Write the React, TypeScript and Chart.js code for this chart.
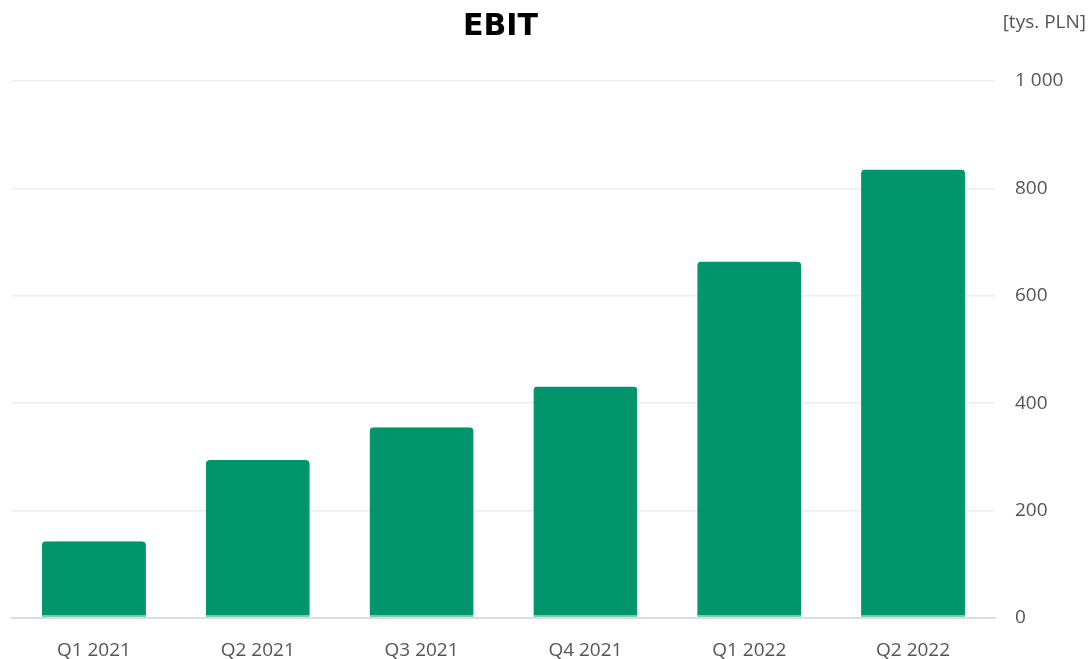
import React, { useEffect, useRef } from "react";
import { Chart, registerables } from "chart.js";

Chart.register(...registerables);

const categories = ["Q1 2021", "Q2 2021", "Q3 2021", "Q4 2021", "Q1 2022", "Q2 2022"];
const ebitValues = [143, 294, 355, 431, 664, 835];
const yTicks = [0, 200, 400, 600, 800, 1000];
const titleText = "EBIT";
const unitText = "[tys. PLN]";

const FONT = "'Open Sans', 'Noto Sans', sans-serif";

const headerPlugin = {
  id: "header",
  afterDraw(chart: any) {
    const { ctx, chartArea } = chart;
    ctx.save();
    ctx.fillStyle = "#000";
    ctx.font = `bold 30px 'DejaVu Sans', sans-serif`;
    ctx.textAlign = "center";
    ctx.textBaseline = "middle";
    ctx.fillText(titleText, (chartArea.left + chartArea.right) / 2 - 3, 27);
    ctx.fillStyle = "#555";
    ctx.font = `19px ${FONT}`;
    ctx.textAlign = "right";
    ctx.fillText(unitText, chart.width - 2, 23);
    ctx.restore();
  },
};

export default function App() {
  const ref = useRef<HTMLCanvasElement>(null);
  useEffect(() => {
    document.body.style.margin = "0";
    const chart = new Chart(ref.current!, {
      type: "bar",
      data: {
        labels: categories,
        datasets: [
          {
            data: ebitValues,
            backgroundColor: "#00956a",
            borderColor: "#7dcfb0",
            borderWidth: { top: 0, left: 0, right: 0, bottom: 2 },
            borderSkipped: false,
            borderRadius: { topLeft: 4, topRight: 4, bottomLeft: 0, bottomRight: 0 },
            barPercentage: 0.635,
            categoryPercentage: 1,
          },
        ],
      },
      options: {
        animation: false,
        responsive: false,
        layout: { padding: { left: 12, top: 81, right: 0, bottom: 0 } },
        plugins: { legend: { display: false }, tooltip: { enabled: false }, title: { display: false } },
        scales: {
          x: {
            grid: { display: false },
            border: { display: true, color: "#dddddd", width: 2 },
            ticks: { color: "#555", font: { family: FONT, size: 19 }, padding: 13 },
            afterFit(scale: any) {
              scale.height = 41;
            },
          },
          y: {
            position: "right",
            min: 0,
            max: 1000,
            afterBuildTicks(scale: any) {
              scale.ticks = yTicks.map((v) => ({ value: v }));
            },
            grid: { color: "#eeeeee", lineWidth: 1.5, drawTicks: false },
            border: { display: false },
            ticks: {
              color: "#555",
              font: { family: FONT, size: 19 },
              padding: 20,
              callback: (v: any) => String(v).replace(/\B(?=(\d{3})+(?!\d))/g, " "),
            },
            afterFit(scale: any) {
              scale.width = 93;
            },
          },
        },
      },
      plugins: [headerPlugin],
    });
    return () => chart.destroy();
  }, []);
  return <canvas ref={ref} width={1088} height={659} style={{ display: "block" }} />;
}
